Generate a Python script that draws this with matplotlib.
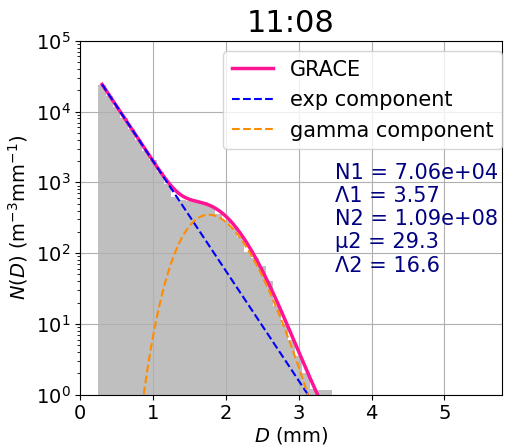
import matplotlib.pyplot as plt
import numpy as np

# histogram (bin centres in mm, N(D) in m^-3 mm^-1)
bin_centers = [0.3, 0.4, 0.5, 0.6, 0.7, 0.8, 0.9, 1.0, 1.1, 1.2, 1.3, 1.4, 1.5, 1.6, 1.7, 1.8,
               1.9, 2.0, 2.1, 2.2, 2.3, 2.4, 2.5, 2.6, 2.7, 2.8, 2.9, 3.0, 3.1, 3.2, 3.3, 3.4]
bin_values = [24000, 16500, 11500, 8100, 5700, 4000, 2800, 2050, 1400, 950, 620, 560, 540, 540, 530, 470,
              360, 280, 230, 170, 105, 85, 65, 40, 18, 10, 6, 3.5, 2.0, 1.2, 1.15, 1.15]

# fitted parameters
N1 = 7.06e4
lam1 = 3.57
N2 = 1.09e8
mu2 = 29.3
lam2 = 16.6

title = '11:08'


def exp_part(D):
    return N1 * np.exp(-lam1 * D)


def gamma_part(D):
    return N2 * D**mu2 * np.exp(-lam2 * D)


fig = plt.figure(figsize=(5.08, 4.48), dpi=100)
ax = fig.add_axes([0.158, 0.119, 0.83, 0.79])

ax.bar(bin_centers, bin_values, width=0.1, color='gray', alpha=0.5)

D = np.linspace(bin_centers[0], bin_centers[-1], 400)
ax.plot(D, exp_part(D) + gamma_part(D), color='deeppink', linewidth=2.5, label='GRACE')
ax.plot(D, exp_part(D), 'b--', linewidth=1.5, label='exp component')
ax.plot(D, gamma_part(D), '--', color='darkorange', linewidth=1.5, label='gamma component')

ax.set_yscale('log')
ax.set_ylim(1, 1e5)
ax.set_xlim(0, 5.79)
ax.grid(True)
ax.set_xlabel('$D$ (mm)', fontsize=14, labelpad=1)
ax.set_ylabel('$N(D)$ (m$^{-3}$mm$^{-1}$)', fontsize=14)
ax.tick_params(labelsize=14)
ax.set_title(title, fontsize=22)
ax.legend(fontsize=15, loc='upper right', bbox_to_anchor=(1.0, 0.97), borderaxespad=0)

txt = 'N1 = %.2e\nΛ1 = %.2f\nN2 = %.2e\nμ2 = %.1f\nΛ2 = %.1f' % (N1, lam1, N2, mu2, lam2)
ax.text(0.603, 0.655, txt, transform=ax.transAxes, fontsize=15, color='navy', va='top')

plt.savefig('out.png')
